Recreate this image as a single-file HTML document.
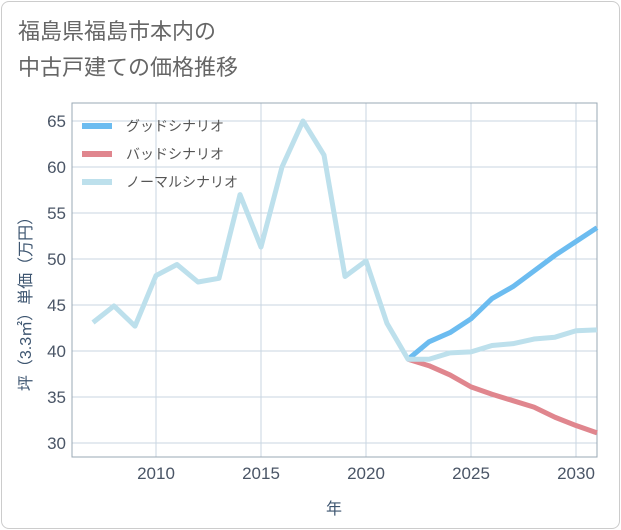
<!DOCTYPE html>
<html><head><meta charset="utf-8"><style>
body{margin:0;background:#fff;}
#wrap{position:relative;width:621px;height:530px;font-family:"Liberation Sans","Noto Sans CJK JP",sans-serif;}
#card{position:absolute;left:1px;top:1px;width:617px;height:526px;border:1px solid #ccc;border-radius:8px;background:#fff;}
#title{position:absolute;left:18px;top:14px;font-size:22px;line-height:36px;color:#666;}
</style></head><body>
<div id="wrap">
<div id="card"></div>
<div id="title">福島県福島市本内の<br>中古戸建ての価格推移</div>
<svg id="chart" width="621" height="530" style="position:absolute;left:0;top:0"></svg>
</div>
<script>
const years=[2007,2008,2009,2010,2011,2012,2013,2014,2015,2016,2017,2018,2019,2020,2021,2022,2023,2024,2025,2026,2027,2028,2029,2030,2031];
const normalValues=[43.1,44.9,42.7,48.2,49.4,47.5,47.9,57,51.3,60,65,61.3,48.1,49.8,43,39.1,39.1,39.8,39.9,40.6,40.8,41.3,41.5,42.2,42.3];
const goodYears=[2022,2023,2024,2025,2026,2027,2028,2029,2030,2031];
const goodValues=[39.1,41,42,43.5,45.7,47,48.7,50.4,51.9,53.4];
const badValues=[39.1,38.4,37.4,36.1,35.3,34.6,33.9,32.8,31.9,31.1];
const xTicks=[2010,2015,2020,2025,2030];
const yTicks=[30,35,40,45,50,55,60,65];
const NS='http://www.w3.org/2000/svg';
const svg=document.getElementById('chart');
const L=72,R=597,T=103,B=457;
const xs=y=>156+(y-2010)*21;
const ys=v=>443-(v-30)*(322/35);
const tickColor='#4a5566';
function mk(tag,attrs){const e=document.createElementNS(NS,tag);for(const k in attrs)e.setAttribute(k,attrs[k]);svg.appendChild(e);return e;}
for(const t of yTicks){
 const g=mk('line',{x1:L,x2:R,y1:ys(t),y2:ys(t),stroke:'#c8d6e2','stroke-width':1});
 
 
 const tx=mk('text',{x:L-6,y:ys(t)+6,'text-anchor':'end','font-size':17,fill:tickColor});
 tx.textContent=t;
 
 
}
for(const t of xTicks){
 const g=mk('line',{x1:xs(t),x2:xs(t),y1:T,y2:B,stroke:'#c8d6e2','stroke-width':1});
 
 
 const tx=mk('text',{x:xs(t),y:B+22,'text-anchor':'middle','font-size':17,fill:tickColor});
 tx.textContent=t;
 
 
}
const frame=mk('rect',{x:L,y:T,width:R-L,height:B-T,fill:'none',stroke:'#9aa8b4','stroke-width':1});


function line(xv,yv,color,name){
 const d=xv.map((x,i)=>(i?'L':'M')+xs(x)+','+ys(yv[i])).join(' ');
 const p=mk('path',{d:d,fill:'none',stroke:color,'stroke-width':5,'stroke-linejoin':'round'});
 
 
}
line(goodYears,badValues,'#e0868e','bad-scenario-line');
line(goodYears,goodValues,'#6cbcf0','good-scenario-line');
line(years,normalValues,'#bde0ec','normal-scenario-line');
const legend=[['グッドシナリオ','#6cbcf0'],['バッドシナリオ','#e0868e'],['ノーマルシナリオ','#bde0ec']];
legend.forEach((l,i)=>{
 const y=126+i*28;
 const r=mk('rect',{x:82,y:y-3,width:30,height:6,fill:l[1]});
 
 
 const tx=mk('text',{x:126,y:y+5,'font-size':14,fill:'#555'});
 tx.textContent=l[0];
 
 
});
const yt=mk('text',{x:0,y:0,'font-size':16,fill:'#3d5570','text-anchor':'middle',transform:'translate(31,300) rotate(-90)'});
yt.textContent='坪（3.3㎡）単価（万円）';


const xt=mk('text',{x:334,y:514,'font-size':16,fill:'#3d5570','text-anchor':'middle'});
xt.textContent='年';


</script>
</body></html>
